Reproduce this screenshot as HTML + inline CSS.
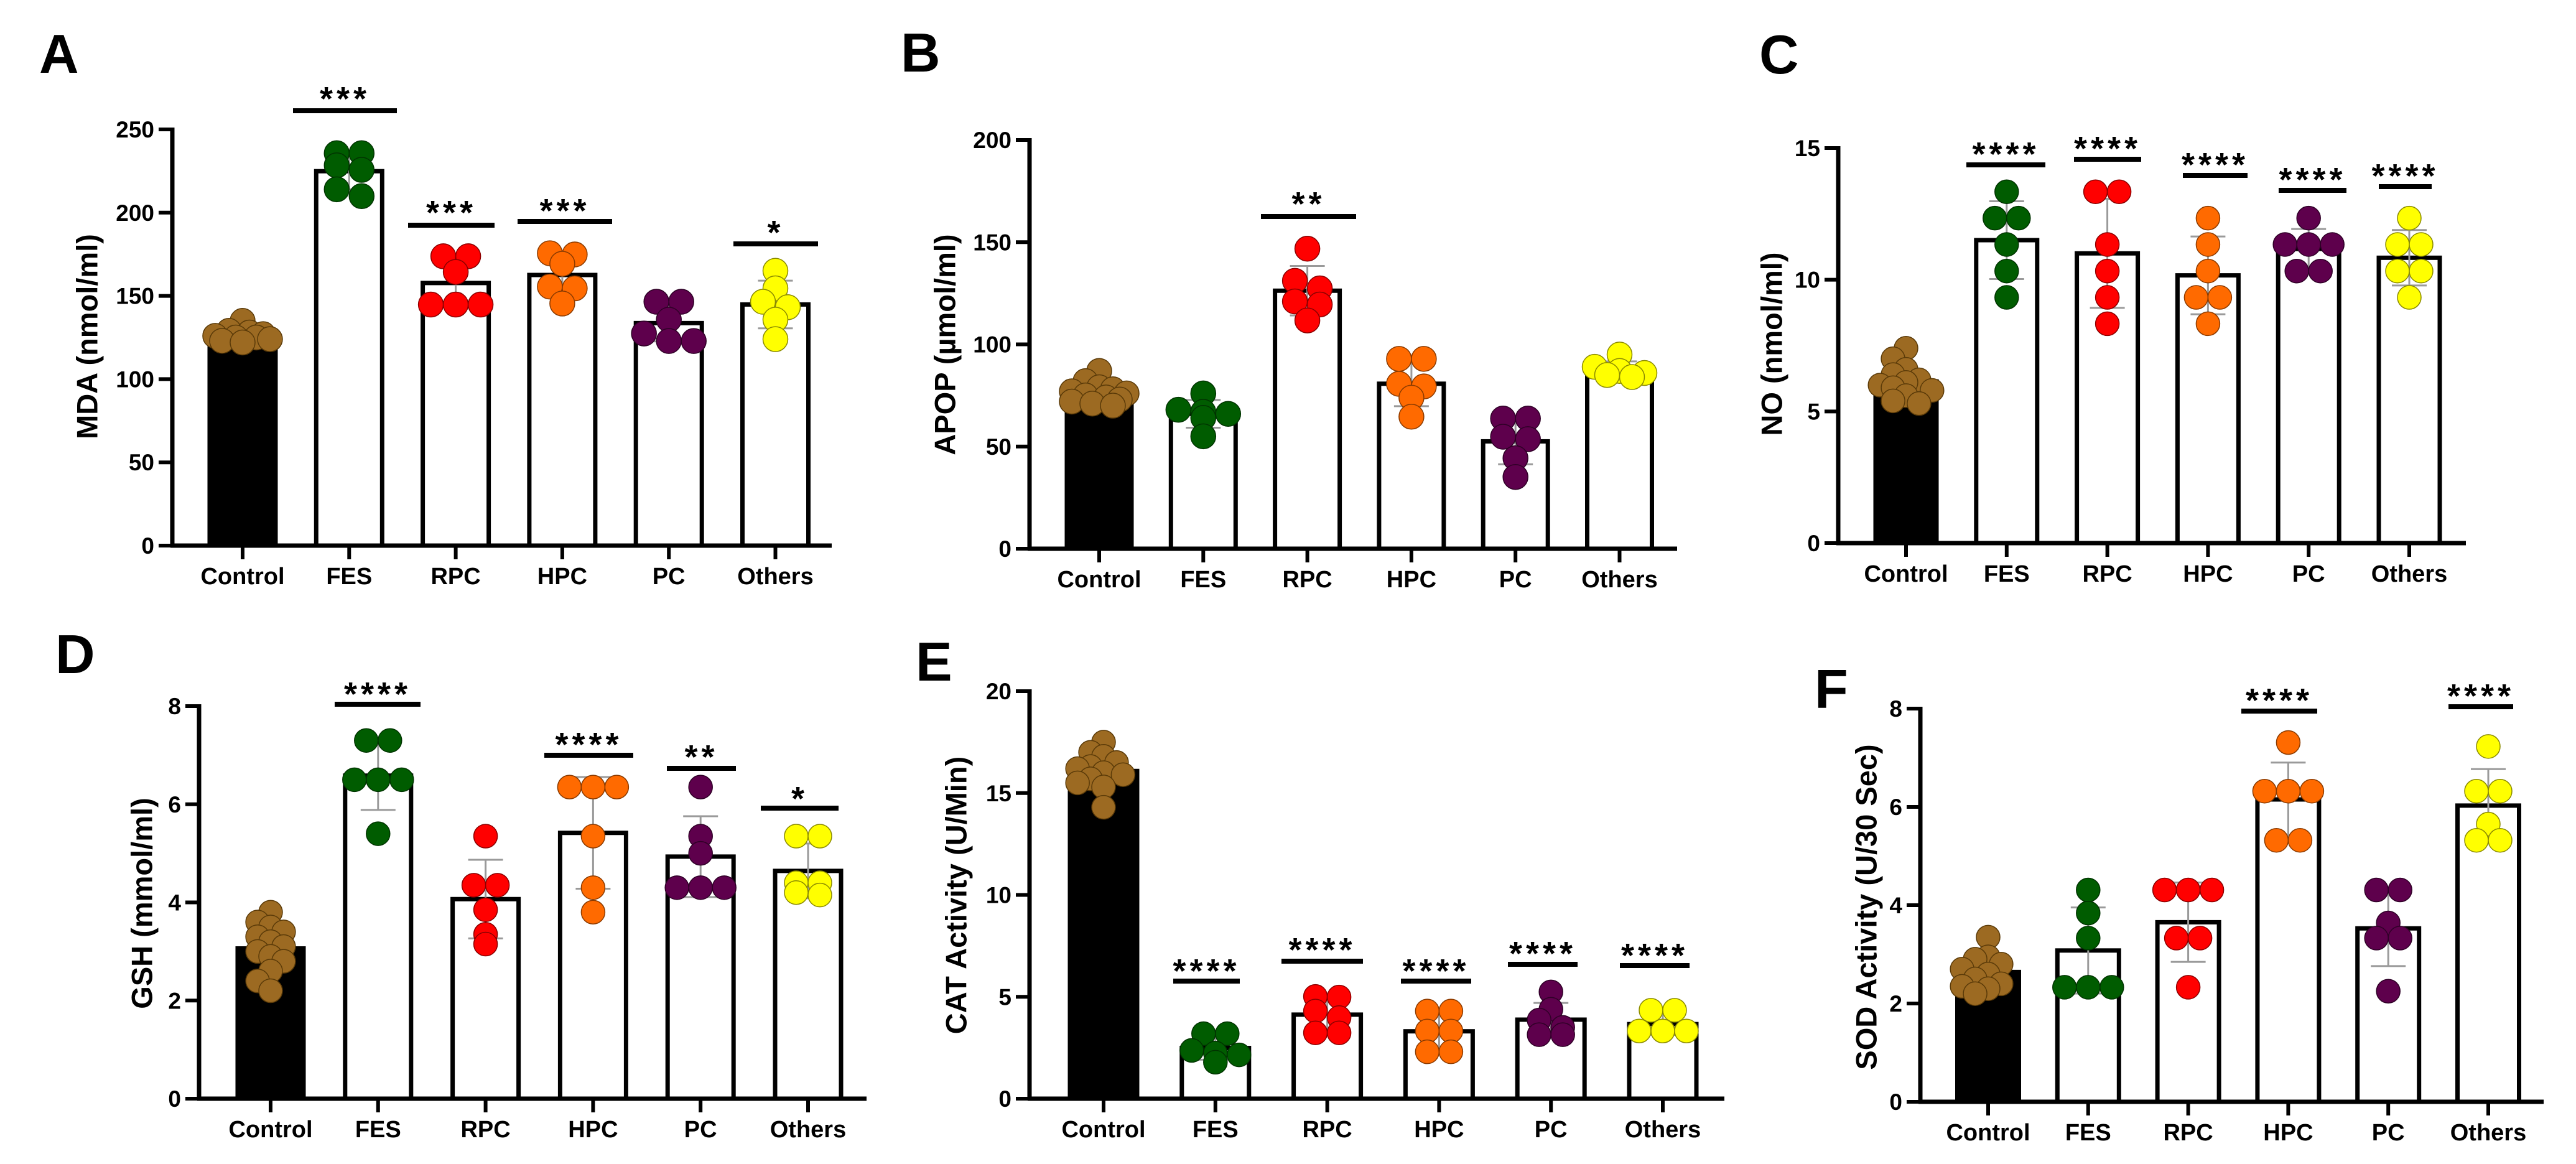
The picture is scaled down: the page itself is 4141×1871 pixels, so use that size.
<!DOCTYPE html>
<html><head><meta charset="utf-8">
<style>
html,body{margin:0;padding:0;background:#fff;}
svg{display:block;font-family:"Liberation Sans",Arial,sans-serif;}
</style></head>
<body>
<svg id="fig" width="4141" height="1871" viewBox="0 0 4141 1871" xmlns="http://www.w3.org/2000/svg"></svg>
<script>
// ---------- DATA ----------
const categories = ['Control','FES','RPC','HPC','PC','Others'];
const mdaValues = [
  [135,129,128,127,126,125,125,124,123,122],
  [235.7,235.7,228.4,225.7,214,209.9],
  [173.8,173.8,164.4,144.8,144.8,144.8],
  [175.6,174.9,169.3,155.6,154.5,145.4],
  [146.5,146.5,135.7,127.4,122.9,122.9],
  [165.1,154.5,146.5,143.2,135.7,124]
];
const apopValues = [
  [87,82,79,78,77,76,75,74,73,72,71,70],
  [76,68,67,66,64,55],
  [146.8,131.1,127.4,121,119.5,111.7],
  [92.9,92.9,80.7,79.4,73.9,64.6],
  [63.7,63.7,54.8,53.6,44.3,35.1],
  [95,89,87,86,85,84]
];
const noValues = [
  [7.4,7.0,6.6,6.4,6.2,6.1,6.0,5.9,5.8,5.6,5.4,5.3],
  [13.34,12.34,12.34,11.34,10.33,9.33],
  [13.34,13.34,11.34,10.33,9.33,8.33],
  [12.34,11.34,10.33,9.33,9.33,8.33],
  [12.34,11.34,11.34,11.34,10.33,10.33],
  [12.34,11.34,11.34,10.33,10.33,9.33]
];
const gshValues = [
  [3.8,3.6,3.5,3.4,3.3,3.2,3.1,3.0,2.9,2.8,2.6,2.4,2.2],
  [7.3,7.3,6.5,6.5,6.5,5.4],
  [5.35,4.35,4.35,3.85,3.35,3.15],
  [6.35,6.35,6.35,5.35,4.3,3.8],
  [6.35,5.35,5.0,4.3,4.3,4.3],
  [5.35,5.35,4.4,4.4,4.2,4.15]
];
const catValues = [
  [17.5,17.0,16.8,16.5,16.3,16.2,16.0,15.9,15.7,15.5,15.3,14.3],
  [3.19,3.19,2.37,2.24,2.15,1.79],
  [5.02,4.99,4.3,3.98,3.23,3.23],
  [4.3,4.3,3.32,3.32,2.3,2.3],
  [5.24,4.39,3.86,3.5,3.14,3.14],
  [4.34,4.34,3.32,3.32,3.32,3.32]
];
const sodValues = [
  [3.35,2.95,2.9,2.8,2.7,2.6,2.5,2.4,2.35,2.3,2.2],
  [4.31,3.84,3.33,2.33,2.33,2.33],
  [4.31,4.31,4.31,3.33,3.33,2.33],
  [7.31,6.32,6.32,6.32,5.32,5.32],
  [4.31,4.31,3.64,3.33,3.33,2.25],
  [7.23,6.32,6.32,5.65,5.32,5.32]
];
const mdaSig  = ['','***','***','***','','*'];
const apopSig = ['','','**','','',''];
const noSig   = ['','****','****','****','****','****'];
const gshSig  = ['','****','','****','**','*'];
const catSig  = ['','****','****','****','****','****'];
const sodSig  = ['','','','****','','****'];
const mdaTicks = [0,50,100,150,200,250];
const apopTicks = [0,50,100,150,200];
const noTicks = [0,5,10,15];
const gshTicks = [0,2,4,6,8];
const catTicks = [0,5,10,15,20];
const sodTicks = [0,2,4,6,8];

const colors = ['#9c6a22','#005c00','#ff0000','#ff6a00','#5e004c','#ffff00'];
const strokes = ['#5a3a08','#003300','#8a0000','#8a3a00','#2e0026','#8a8a00'];

// ---------- LAYOUT ----------
const panels = [
 {id:'a',letter:'A',lx:63,ly:117,title:'MDA (nmol/ml)',tx:140,ty:541,ax:277,top:208,bot:877,max:250,ticks:mdaTicks,xEnd:1337,c0:390,dx:171.3,bw:112,r:20,vals:mdaValues,sig:mdaSig,
  sigPos:[null,[178,147,471,638],[362,330,656,795],[356,327,832,984],null,[392,362,1179,1315]]},
 {id:'b',letter:'B',lx:1448,ly:115,title:'APOP (µmol/ml)',tx:1519,ty:554,ax:1655,top:225,bot:882,max:200,ticks:apopTicks,xEnd:2696,c0:1767,dx:167.3,bw:110,r:20,vals:apopValues,sig:apopSig,
  sigPos:[null,null,[348,316,2027,2180],null,null,null]},
 {id:'c',letter:'C',lx:2828,ly:118,title:'NO (nmol/ml)',tx:2848,ty:553,ax:2955,top:238,bot:873,max:15,ticks:noTicks,xEnd:3964,c0:3064,dx:161.8,bw:104,r:19,vals:noValues,sig:noSig,
  sigPos:[null,[265,236,3161,3288],[256,227,3334,3442],[282,253,3509,3613],[306,277,3663,3772],[300,271,3824,3909]]},
 {id:'d',letter:'D',lx:89,ly:1082,title:'GSH (mmol/ml)',tx:228,ty:1452,ax:320,top:1135,bot:1766,max:8,ticks:gshTicks,xEnd:1393,c0:435,dx:172.8,bw:112,r:19,vals:gshValues,sig:gshSig,
  sigPos:[null,[1132,1104,538,676],null,[1214,1185,875,1018],[1235,1205,1072,1183],[1299,1272,1223,1348]]},
 {id:'e',letter:'E',lx:1472,ly:1094,title:'CAT Activity (U/Min)',tx:1537,ty:1439,ax:1655,top:1111,bot:1766,max:20,ticks:catTicks,xEnd:2772,c0:1774,dx:179.8,bw:114,r:19,vals:catValues,sig:catSig,
  sigPos:[null,[1577,1549,1886,1993],[1545,1515,2060,2191],[1577,1549,2252,2365],[1550,1521,2424,2536],[1552,1524,2604,2716]]},
 {id:'f',letter:'F',lx:2917,ly:1138,title:'SOD Activity (U/30 Sec)',tx:3000,ty:1458,ax:3087,top:1139,bot:1771,max:8,ticks:sodTicks,xEnd:4089,c0:3196,dx:160.8,bw:105,r:19,vals:sodValues,sig:sodSig,
  sigPos:[null,null,null,[1143,1114,3603,3725],null,[1136,1107,3936,4040]]}
];

const NS='http://www.w3.org/2000/svg';
const svg=document.getElementById('fig');
function mk(tag,attrs,parent){const e=document.createElementNS(NS,tag);for(const k in attrs)e.setAttribute(k,attrs[k]);(parent||svg).appendChild(e);return e;}
function mean(a){return a.reduce((s,v)=>s+v,0)/a.length;}
function sd(a){const m=mean(a);return Math.sqrt(a.reduce((s,v)=>s+(v-m)*(v-m),0)/(a.length-1));}

function swarm(ys,cx,step,thr,maxOff){
  const placed=[];const out=[];
  const cands=[0];for(let k=1;k<40;k++){cands.push(-k*step,k*step);}
  ys.forEach(y=>{
    let best=null,bestD=-1;
    for(const off of cands){
      if(Math.abs(off)>maxOff)continue;
      const x=cx+off;
      let md=1e9;for(const p of placed){md=Math.min(md,Math.hypot(p[0]-x,p[1]-y));}
      if(md>=thr){best=x;bestD=md;break;}
      if(md>bestD){bestD=md;best=x;}
    }
    placed.push([best,y]);out.push(best);
  });
  return out;
}
function rows(ys,cx,step,rowTol,maxRow){
  const idx=ys.map((y,i)=>i).sort((a,b)=>ys[a]-ys[b]);
  const out=new Array(ys.length);
  let grp=[];
  const flush=()=>{grp.forEach((id,k)=>{out[id]=cx+(k-(grp.length-1)/2)*step;});grp=[];};
  idx.forEach(id=>{
    if(grp.length&&(ys[id]-ys[grp[0]]>rowTol||grp.length>=maxRow))flush();
    grp.push(id);
  });
  flush();
  return out;
}

panels.forEach(P=>{
  const g=mk('g',{});
  
  
  const ys=v=>P.bot-(v/P.max)*(P.bot-P.top);
  const xs=i=>P.c0+i*P.dx;
  const lt=mk('text',{x:P.lx,y:P.ly,'font-size':88,'font-weight':'bold',fill:'#000'},g);
  lt.textContent=P.letter;
  
  
  const tt=mk('text',{x:P.tx,y:P.ty,'font-size':47,'font-weight':'bold','text-anchor':'middle','dominant-baseline':'central',transform:`rotate(-90 ${P.tx} ${P.ty})`},g);
  tt.textContent=P.title;
  
  
  P.vals.forEach((vals,i)=>{
    const m=mean(vals),s=sd(vals),cx=xs(i);
    const isCtrl=i===0;
    const bar=mk('rect',{x:cx-P.bw/2+3,y:ys(m),width:P.bw-6,height:P.bot-ys(m),fill:isCtrl?'#000':'#fff',stroke:'#000','stroke-width':7},g);
    
    
    if(!isCtrl){
      const eg=mk('g',{stroke:'#9a9a9a','stroke-width':3},g);
      
      
      mk('line',{x1:cx,x2:cx,y1:ys(m+s),y2:ys(m-s)},eg);
      mk('line',{x1:cx-28,x2:cx+28,y1:ys(m+s),y2:ys(m+s)},eg);
      mk('line',{x1:cx-28,x2:cx+28,y1:ys(m-s),y2:ys(m-s)},eg);
    }
    const yy=vals.map(ys);
    const xx=isCtrl?swarm(yy,cx,P.r*0.55,P.r*1.05,P.bw/2-P.r*0.3):rows(yy,cx,P.r*2,P.r*0.8,3);
    const dg=mk('g',{},g);
    
    
    yy.forEach((y,k)=>{
      const c=mk('circle',{cx:xx[k],cy:y,r:P.r,fill:colors[i],stroke:strokes[i],'stroke-width':1.5},dg);
      
      
    });
    const sp=P.sigPos[i];
    if(P.sig[i]&&sp){
      const sl=mk('line',{x1:sp[2],x2:sp[3],y1:sp[0],y2:sp[0],stroke:'#000','stroke-width':8},g);
      
      
      const st=mk('text',{x:(sp[2]+sp[3])/2,y:sp[1]+30,'font-size':54,'font-weight':'bold','text-anchor':'middle','letter-spacing':6},g);
      st.textContent=P.sig[i];
      
      
    }
    mk('line',{x1:cx,x2:cx,y1:P.bot,y2:P.bot+22,stroke:'#000','stroke-width':6},g);
    const cl=mk('text',{x:cx,y:P.bot+62,'font-size':38,'font-weight':'bold','text-anchor':'middle'},g);
    cl.textContent=categories[i];
    
    
  });
  const ya=mk('line',{x1:P.ax,x2:P.ax,y1:P.top-3,y2:P.bot+3,stroke:'#000','stroke-width':7},g);
  
  
  const xa=mk('line',{x1:P.ax-3,x2:P.xEnd,y1:P.bot,y2:P.bot,stroke:'#000','stroke-width':7},g);
  
  
  P.ticks.forEach(t=>{
    const y=ys(t);
    mk('line',{x1:P.ax-22,x2:P.ax,y1:y,y2:y,stroke:'#000','stroke-width':6},g);
    const tl=mk('text',{x:P.ax-29,y:y+13,'font-size':37,'font-weight':'bold','text-anchor':'end'},g);
    tl.textContent=t;
    
    
  });
});
</script>
</body></html>
